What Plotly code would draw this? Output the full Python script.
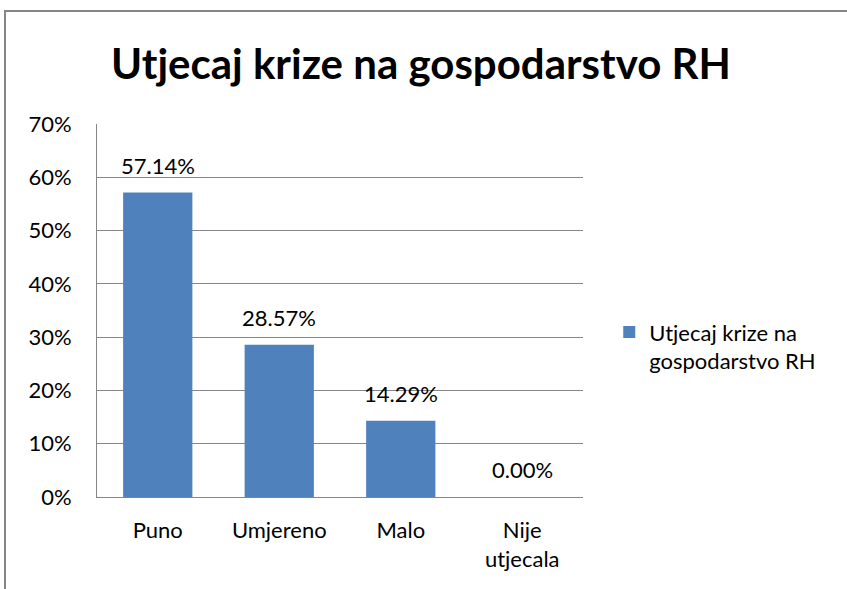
import plotly.graph_objects as go

categories = ["Puno", "Umjereno", "Malo", "Nije<br>utjecala"]
values = [0.5714, 0.2857, 0.1429, 0.0]
labels = ["57.14%", "28.57%", "14.29%", "0.00%"]
series_name = "Utjecaj krize na<br>gospodarstvo RH"
title_text = "Utjecaj krize na gospodarstvo RH"

BAR = "#4F81BD"
GRID = "#868686"
FONT = "Lato, Open Sans, sans-serif"

W, H = 847, 589
L, R, T, B = 97, 264, 124, 92
pw, ph = W - L - R, H - T - B

fig = go.Figure()
fig.add_trace(go.Bar(
    x=categories, y=values, name=series_name,
    marker=dict(color=BAR, line=dict(width=0)),
    width=0.57, showlegend=True, hoverinfo="x+y",
))

# data labels above the bars
for c, v, t in zip(categories, values, labels):
    fig.add_annotation(x=c, y=v, text=t, showarrow=False,
                       yanchor="bottom", yshift=12,
                       font=dict(size=22, color="#000000", family=FONT))

fig.update_layout(
    width=W, height=H,
    margin=dict(l=L, r=R, t=T, b=B),
    paper_bgcolor="white", plot_bgcolor="white",
    font=dict(family=FONT, size=22, color="#000000"),
    title=dict(text=f"<b>{title_text}</b>", font=dict(size=42, family=FONT),
               x=0.497, xanchor="center", y=0.89, yanchor="middle"),
    legend=dict(x=1.054, y=0.498, xanchor="left", yanchor="top", valign="top",
                font=dict(size=22), itemsizing="constant"),
    shapes=[dict(type="rect", xref="paper", yref="paper",
                 x0=(5 - L) / pw, x1=(W + 10 - L) / pw,
                 y0=-(B + 10) / ph, y1=1 + (T - 11) / ph,
                 line=dict(color=GRID, width=2), fillcolor="rgba(0,0,0,0)", layer="below")],
)
fig.update_yaxes(range=[0, 0.7], dtick=0.1, tickformat=".0%",
                 showgrid=True, gridcolor=GRID, gridwidth=1,
                 showline=True, linecolor=GRID, linewidth=1,
                 ticks="", zeroline=False, ticklabelstandoff=20)
fig.update_xaxes(showline=True, linecolor=GRID, linewidth=1,
                 ticks="", ticklabelstandoff=14)

# page has a default 8px body margin; remove it so the chart sits at 0,0
fig.write_html("out.html", config={"displayModeBar": False},
               post_script="document.body.style.margin='0';")
